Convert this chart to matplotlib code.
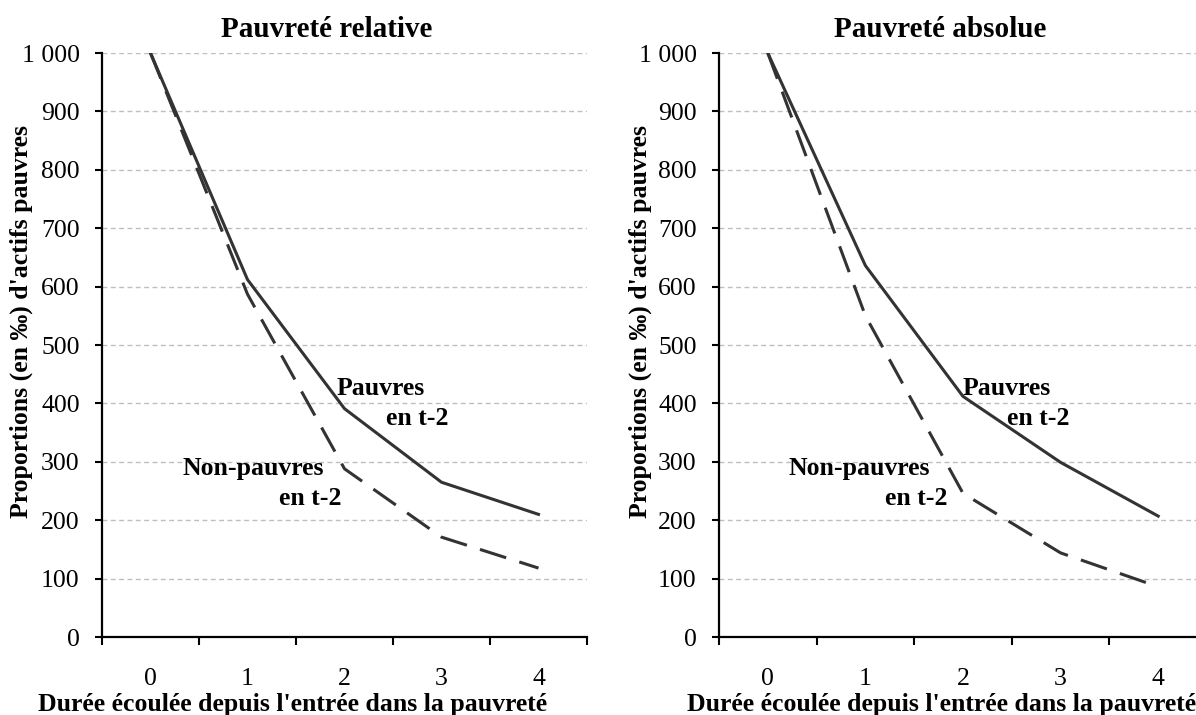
import matplotlib
matplotlib.use("Agg")
import matplotlib.pyplot as plt
from matplotlib.ticker import FuncFormatter

# data (per thousand of poor workers)
durees = [0, 1, 2, 3, 4]
duree_labels = ["0", "1", "2", "3", "4"]

rel_pauvres = [1000, 612, 391, 265, 210]
rel_non_pauvres = [1000, 587, 288, 171, 118]

abs_pauvres = [1000, 636, 412, 299, 207]
abs_non_pauvres = [1000, 550, 246, 144, 86]

plt.rcParams['font.family'] = ['Liberation Serif', 'DejaVu Serif']

W, H = 1196, 715
fig = plt.figure(figsize=(W / 100, H / 100), dpi=100)

LINE = '#333333'
FS = 18.5


def fmt(v, pos):
    return f"{int(v):,}".replace(",", " ")


def make_axes(left_px, width_px):
    ax = fig.add_axes([left_px / W, (H - 637) / H, width_px / W, 584 / H])
    ax.set_xlim(-0.5, 4.5)
    ax.set_ylim(0, 1000)
    for s in ['top', 'right']:
        ax.spines[s].set_visible(False)
    for s in ['left', 'bottom']:
        ax.spines[s].set_linewidth(1.6)
        ax.spines[s].set_color('black')
    ax.set_yticks(range(0, 1001, 100))
    ax.yaxis.set_major_formatter(FuncFormatter(fmt))
    ax.tick_params(axis='y', length=5, width=1.5, pad=11, labelsize=FS)
    # category boundaries as ticks, labels at the centres
    ax.set_xticks([-0.5, 0.5, 1.5, 2.5, 3.5, 4.5])
    ax.set_xticklabels([])
    ax.tick_params(axis='x', which='major', length=6, width=1.5)
    ax.set_xticks(durees, minor=True)
    ax.set_xticklabels(duree_labels, minor=True)
    ax.tick_params(axis='x', which='minor', length=0, pad=22, labelsize=FS)
    for v in range(100, 1001, 100):
        ax.axhline(v, color='#BFBFBF', lw=1.0, ls=(0, (3.5, 2.5)), zorder=0)
    return ax


def draw(ax, pauvres, non_pauvres):
    ax.plot(durees, pauvres, color=LINE, lw=2.2, solid_joinstyle='miter')
    ax.plot(durees, non_pauvres, color=LINE, lw=2.2, dashes=(9, 4.5))


bold = dict(fontsize=FS, fontweight='bold', va='baseline')

ax1 = make_axes(102, 485)
draw(ax1, rel_pauvres, rel_non_pauvres)
ax1.text(1.92, 414, "Pauvres", ha='left', **bold)
ax1.text(3.07, 363, "en t-2", ha='right', **bold)
ax1.text(0.335, 277, "Non-pauvres", ha='left', **bold)
ax1.text(1.97, 226, "en t-2", ha='right', **bold)

ax2 = make_axes(719, 488)
draw(ax2, abs_pauvres, abs_non_pauvres)
ax2.text(2.0, 414, "Pauvres", ha='left', **bold)
ax2.text(3.09, 363, "en t-2", ha='right', **bold)
ax2.text(0.207, 277, "Non-pauvres", ha='left', **bold)
ax2.text(1.846, 226, "en t-2", ha='right', **bold)

# titles, axis labels
fig.text(327 / W, (H - 37) / H, "Pauvreté relative", ha='center', va='baseline',
         fontsize=21, fontweight='bold')
fig.text(940 / W, (H - 37) / H, "Pauvreté absolue", ha='center', va='baseline',
         fontsize=21, fontweight='bold')
for xc in [293, 942]:
    fig.text(xc / W, (H - 711) / H, "Durée écoulée depuis l'entrée dans la pauvreté",
             ha='center', va='baseline', fontsize=FS, fontweight='bold')
for xc in [21, 640]:
    fig.text(xc / W, (H - 321) / H, "Proportions (en ‰) d'actifs pauvres",
             ha='center', va='center', rotation=90, fontsize=FS, fontweight='bold')

fig.savefig("out.png", dpi=100)
